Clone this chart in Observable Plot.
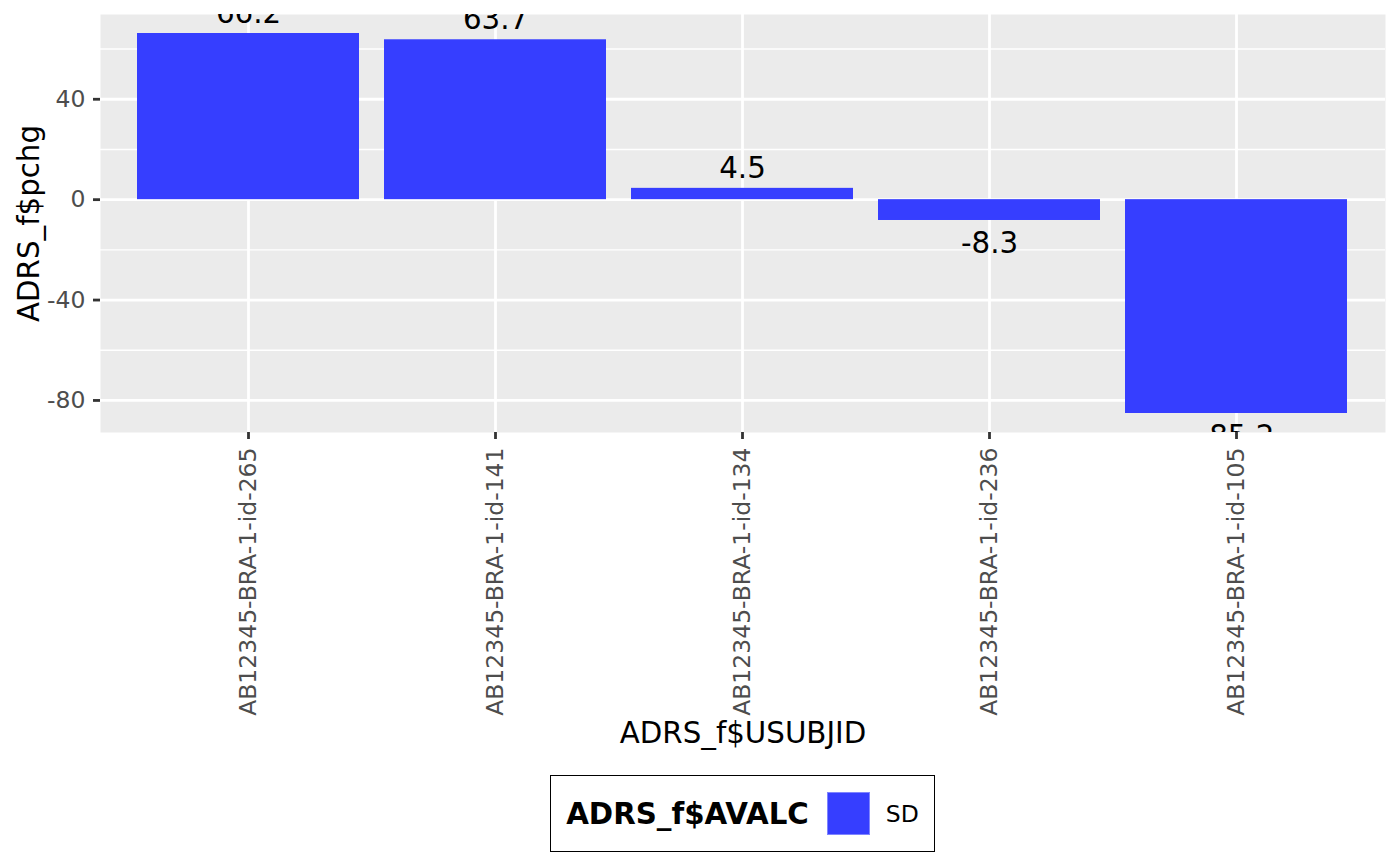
<!DOCTYPE html>
<html>
<head>
<meta charset="utf-8">
<script src="https://cdn.jsdelivr.net/npm/d3@7"></script>
<script src="https://cdn.jsdelivr.net/npm/@observablehq/plot@0.6"></script>
<style>
  html, body { margin: 0; padding: 0; background: #fff; }
  body { width: 1400px; font-family: "DejaVu Sans", sans-serif; }
  #legendWrap { width: 1400px; box-sizing: border-box; padding-left: 100px; padding-right: 15px; display: flex; justify-content: center; margin-top: 15px; }
  #legend { display: inline-flex; align-items: center; height: 77px; box-sizing: border-box; border: 1.5px solid #000; padding: 0 15px 0 15px; }
  #legend .title { font-weight: bold; font-size: 29.3px; color: #000; }
  #legend .key { width: 43px; height: 43px; margin-left: 18px; box-sizing: border-box; border: 1px solid #7f85ff; }
  #legend .lab { font-size: 23.5px; color: #000; margin-left: 16px; }
</style>
</head>
<body>
<div id="chart"></div>
<div id="legendWrap"><div id="legend"></div></div>
<script>
const categories = ["AB12345-BRA-1-id-265", "AB12345-BRA-1-id-141", "AB12345-BRA-1-id-134", "AB12345-BRA-1-id-236", "AB12345-BRA-1-id-105"];
const pchg = [66.2, 63.7, 4.5, -8.3, -85.2];
const avalc = ["SD", "SD", "SD", "SD", "SD"];
const fillLevels = ["SD"];
const fillColors = ["#363EFF"];
const yMajorTicks = [-80, -40, 0, 40];
const yMinorTicks = [-60, -20, 20, 60];
const xTitle = "ADRS_f$USUBJID";
const yTitle = "ADRS_f$pchg";
const legendTitle = "ADRS_f$AVALC";

const data = categories.map((c, i) => ({id: c, pchg: pchg[i], avalc: avalc[i], label: String(pchg[i])}));

const ymin = Math.min(0, d3.min(pchg)), ymax = Math.max(0, d3.max(pchg));
const pad = (ymax - ymin) * 0.05;

const chart = Plot.plot({
  width: 1400,
  height: 760,
  marginLeft: 100,
  marginRight: 15,
  marginTop: 14,
  marginBottom: 328,
  style: {fontFamily: "DejaVu Sans, sans-serif", background: "#fff", overflow: "visible"},
  x: {domain: categories, paddingInner: 0.1, paddingOuter: 0.15},
  y: {domain: [ymin - pad, ymax + pad]},
  color: {domain: fillLevels, range: fillColors},
  marks: [
    Plot.frame({fill: "#EBEBEB", stroke: null}),
    Plot.gridY(yMinorTicks, {stroke: "#fff", strokeOpacity: 1, strokeWidth: 1.4}),
    Plot.gridY(yMajorTicks, {stroke: "#fff", strokeOpacity: 1, strokeWidth: 2.8}),
    Plot.gridX(categories, {stroke: "#fff", strokeOpacity: 1, strokeWidth: 2.8}),
    Plot.barY(data, {x: "id", y: "pchg", fill: "avalc"}),
    Plot.text(data.filter(d => d.pchg >= 0), {x: "id", y: "pchg", text: "label", lineAnchor: "bottom", dy: -10.5, fontSize: 29.3, fill: "#000", clip: "frame"}),
    Plot.text(data.filter(d => d.pchg < 0), {x: "id", y: "pchg", text: "label", lineAnchor: "top", dy: 12, fontSize: 29.3, fill: "#000", clip: "frame"}),
    Plot.axisY(yMajorTicks, {tickSize: 7, tickPadding: 8, fontSize: 23.5, color: "#4D4D4D", stroke: "#333333", strokeWidth: 2.8, label: null, tickFormat: d => String(d)}),
    Plot.axisX(categories, {tickSize: 7, tickPadding: 8, tickRotate: -90, fontSize: 23.5, color: "#4D4D4D", stroke: "#333333", strokeWidth: 2.8, label: null}),
    Plot.text([xTitle], {frameAnchor: "bottom", dy: 301, textAnchor: "middle", lineAnchor: "middle", fontSize: 29.3, fill: "#000"}),
    Plot.text([yTitle], {frameAnchor: "left", dx: -71, rotate: -90, textAnchor: "middle", lineAnchor: "middle", fontSize: 29.3, fill: "#000"})
  ]
});
document.getElementById("chart").appendChild(chart);

const lg = document.getElementById("legend");
const t = document.createElement("span"); t.className = "title"; t.textContent = legendTitle; lg.appendChild(t);
fillLevels.forEach((lv, i) => {
  const k = document.createElement("span"); k.className = "key"; k.style.background = fillColors[i]; lg.appendChild(k);
  const l = document.createElement("span"); l.className = "lab"; l.textContent = lv; lg.appendChild(l);
});
</script>
</body>
</html>
